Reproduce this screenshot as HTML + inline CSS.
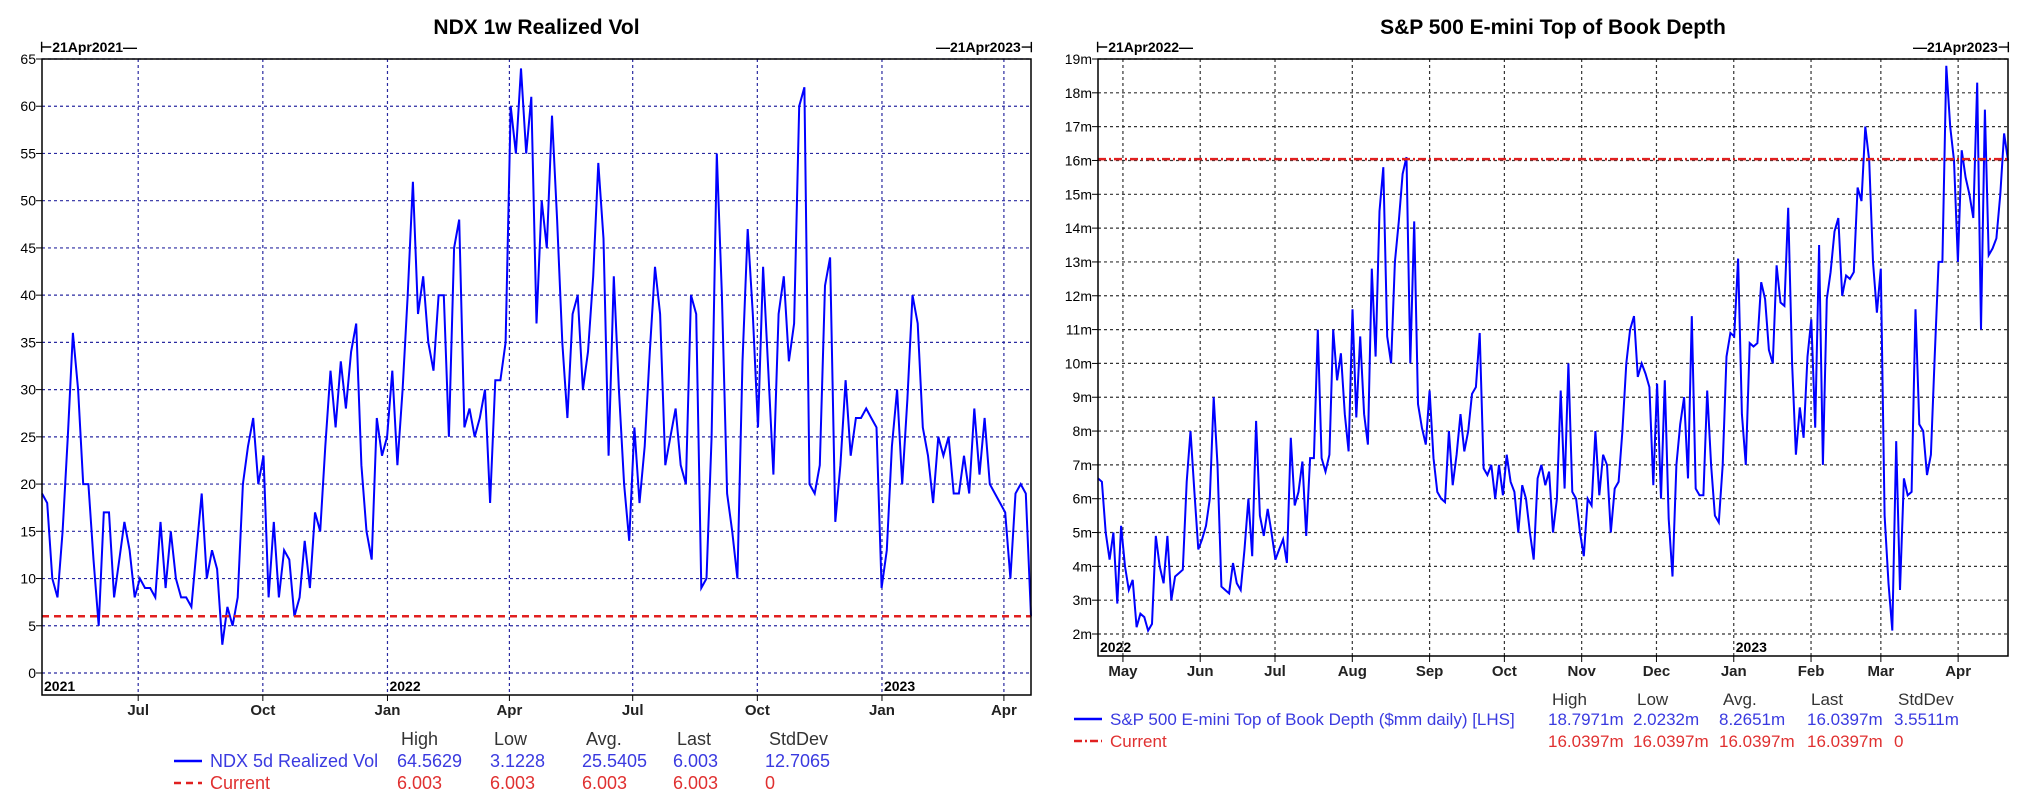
<!DOCTYPE html>
<html><head><meta charset="utf-8"><style>
body{margin:0;background:#fff;width:2028px;height:804px;overflow:hidden;font-family:"Liberation Sans",sans-serif}
svg text{font-family:"Liberation Sans",sans-serif}
</style></head><body>
<svg id="s" width="2028" height="804" xmlns="http://www.w3.org/2000/svg"></svg>
<script>
const ndxValues=[19,18,10,8,15,25,36,30,20,20,12,5,17,17,8,12,16,13,8,10,9,9,8,16,9,15,10,8,8,7,13,19,10,13,11,3,7,5,8,20,24,27,20,23,8,16,8,13,12,6,8,14,9,17,15,24,32,26,33,28,34,37,22,15,12,27,23,25,32,22,30,40,52,38,42,35,32,40,40,25,45,48,26,28,25,27,30,18,31,31,35,60,55,64,55,61,37,50,45,59,48,35,27,38,40,30,34,42,54,46,23,42,30,20,14,26,18,24,34,43,38,22,25,28,22,20,40,38,9,10,25,55,40,19,15,10,33,47,38,26,43,32,21,38,42,33,37,60,62,20,19,22,41,44,16,22,31,23,27,27,28,27,26,9,13,24,30,20,29,40,37,26,23,18,25,23,25,19,19,23,19,28,21,27,20,19,18,17,10,19,20,19,6];
const ndxTicksY=[0,5,10,15,20,25,30,35,40,45,50,55,60,65];
const ndxMonths=["Jul","Oct","Jan","Apr","Jul","Oct","Jan","Apr"];
const ndxMonthDays=[71,163,255,345,436,528,620,710];
const ndxYears=["2021","2022","2023"];
const ndxYearDays=[0,255,620];
const ndxCurrent=6.003;

const esValues=[6.6,6.5,5,4.2,5,2.9,5.2,4,3.3,3.6,2.2,2.6,2.5,2.1,2.3,4.9,4,3.5,4.9,3,3.7,3.8,3.9,6.5,8,6.2,4.5,4.8,5.2,6,9,7,3.4,3.3,3.2,4.1,3.5,3.3,4.5,6,4.3,8.3,5.5,4.9,5.7,5,4.2,4.5,4.8,4.1,7.8,5.8,6.2,7.1,4.9,7.2,7.2,11,7.2,6.8,7.3,11,9.5,10.3,8.5,7.4,11.6,8.4,10.8,8.5,7.6,12.8,10.2,14.5,15.8,10.8,10,13,14.2,15.6,16.1,10,14.2,8.8,8.1,7.6,9.2,7.2,6.2,6,5.9,8,6.4,7.3,8.5,7.4,8,9.1,9.3,10.9,6.9,6.7,7,6,7,6.1,7.3,6.5,6.2,5,6.4,6,5,4.2,6.6,7,6.4,6.8,5,6,9.2,6.3,10,6.2,6,5,4.3,6,5.8,8,6.1,7.3,7,5,6.3,6.5,8,10,11,11.4,9.6,10,9.7,9.3,6.4,9.4,6,9.5,5.4,3.7,7,8.2,9,6.6,11.4,6.3,6.1,6.1,9.2,7,5.5,5.3,7,10.2,10.9,10.8,13.1,8.5,7,10.6,10.5,10.6,12.4,11.9,10.4,10,12.9,11.8,11.7,14.6,10,7.3,8.7,7.8,10.2,11.3,8.1,13.5,7,11.9,12.7,13.9,14.3,12,12.6,12.5,12.7,15.2,14.8,17,16,13,11.5,12.8,5.5,3.5,2.1,7.7,3.3,6.6,6.1,6.2,11.6,8.2,8,6.7,7.3,10.2,13,13,18.8,17,16,13,16.3,15.5,15,14.3,18.3,11,17.5,13.2,13.4,13.7,15,16.8,16];
const esTicksY=[2,3,4,5,6,7,8,9,10,11,12,13,14,15,16,17,18,19];
const esMonths=["May","Jun","Jul","Aug","Sep","Oct","Nov","Dec","Jan","Feb","Mar","Apr"];
const esMonthDays=[10,41,71,102,133,163,194,224,255,286,314,345];
const esYears=["2022","2023"];
const esYearDays=[0,255];
const esCurrent=16.0397;

const S=document.getElementById('s');
const NS='http://www.w3.org/2000/svg';
function mk(tag,attrs,txt){const e=document.createElementNS(NS,tag);for(const k in attrs)e.setAttribute(k,attrs[k]);if(txt!==undefined)e.textContent=txt;S.appendChild(e);return e;}

function chart(c){
  const xs=d=>c.x0+d/c.days*(c.x1-c.x0);
  const ys=v=>c.yb+(v-c.vmin)/(c.vmax-c.vmin)*(c.yt-c.yb);
  let t=mk('text',{x:(c.x0+c.x1)/2,y:c.titleY,'text-anchor':'middle','font-size':21,'font-weight':'bold'},c.title);
  
  
  t=mk('text',{x:c.x0-2,y:52,'font-size':14,'font-weight':'bold'},'⊢'+c.startLbl+'—');
  
  
  t=mk('text',{x:c.x1+2,y:52,'font-size':14,'font-weight':'bold','text-anchor':'end'},'—'+c.endLbl+'⊣');
  
  
  c.ticks.forEach(v=>{
    const y=ys(v);
    let g=mk('line',{x1:c.x0,x2:c.x1,y1:y,y2:y,stroke:c.grid,'stroke-width':1.2,'stroke-dasharray':'3,3'});
    
    
    mk('line',{x1:c.x0-6,x2:c.x0,y1:y,y2:y,stroke:'#000'});
    let l=mk('text',{x:c.x0-6,y:y+5,'text-anchor':'end','font-size':14},v+c.suffix);
    
    
  });
  c.months.forEach((m,i)=>{
    const x=xs(c.monthDays[i]);
    let g=mk('line',{x1:x,x2:x,y1:c.yt,y2:c.yBot,stroke:c.grid,'stroke-width':1.2,'stroke-dasharray':'3,3'});
    
    
    mk('line',{x1:x,x2:x,y1:c.yBot,y2:c.yBot+6,stroke:'#000'});
    let l=mk('text',{x:x,y:c.yBot+20,'text-anchor':'middle','font-size':15,'font-weight':'bold','fill':'#222'},m);
    
    
  });
  c.years.forEach((yr,i)=>{
    let l=mk('text',{x:xs(c.yearDays[i])+2,y:c.yBot-4,'font-size':14,'font-weight':'bold'},yr);
    
    
  });
  const n=c.values.length;
  const pts=c.values.map((v,i)=>xs(i/(n-1)*c.days).toFixed(1)+','+ys(v).toFixed(1)).join(' ');
  let p=mk('polyline',{points:pts,fill:'none',stroke:'#0000ff','stroke-width':2});
  
  
  const cy=ys(c.current);
  p=mk('line',{x1:c.x0,x2:c.x1,y1:cy,y2:cy,stroke:'#e02020','stroke-width':2.5,'stroke-dasharray':c.curDash});
  
  
  let r=mk('rect',{x:c.x0,y:c.yt,width:c.x1-c.x0,height:c.yBot-c.yt,fill:'none',stroke:'#000','stroke-width':1.5});
  
  
  const L=c.leg;
  ['High','Low','Avg.','Last','StdDev'].forEach((h,i)=>{
    let e=mk('text',{x:L.cols[i]+4,y:L.rows[0],'font-size':L.fs,fill:'#333'},h);
    
    
  });
  let e=mk('line',{x1:L.lx,x2:L.lx+28,y1:L.rows[1]-6,y2:L.rows[1]-6,stroke:'#0000ff','stroke-width':2.5});
  
  
  e=mk('text',{x:L.lx+36,y:L.rows[1],'font-size':L.fs,fill:'#3a3ae0'},L.name);
  
  
  L.stats.forEach((s,i)=>{let q=mk('text',{x:L.cols[i],y:L.rows[1],'font-size':L.fs,fill:'#3a3ae0'},s);
    
    });
  e=mk('line',{x1:L.lx,x2:L.lx+28,y1:L.rows[2]-6,y2:L.rows[2]-6,stroke:'#e02020','stroke-width':2.5,'stroke-dasharray':c.curDash});
  
  
  e=mk('text',{x:L.lx+36,y:L.rows[2],'font-size':L.fs,fill:'#e03030'},'Current');
  
  
  L.cur.forEach((s,i)=>{let q=mk('text',{x:L.cols[i],y:L.rows[2],'font-size':L.fs,fill:'#e03030'},s);
    
    });
}
chart({id:'ndx',title:'NDX 1w Realized Vol',titleY:34,startLbl:'21Apr2021',endLbl:'21Apr2023',x0:42,x1:1031,yt:59,yb:673,yBot:695,vmin:0,vmax:65,days:730,
  values:ndxValues,ticks:ndxTicksY,suffix:'',months:ndxMonths,monthDays:ndxMonthDays,years:ndxYears,yearDays:ndxYearDays,current:ndxCurrent,
  grid:'#2a2aa0',curDash:'7,5',
  leg:{fs:18,lx:174,rows:[745,767,789],cols:[397,490,582,673,765],name:'NDX 5d Realized Vol',
    stats:['64.5629','3.1228','25.5405','6.003','12.7065'],cur:['6.003','6.003','6.003','6.003','0']}});
chart({id:'es',title:'S&P 500 E-mini Top of Book Depth',titleY:34,startLbl:'21Apr2022',endLbl:'21Apr2023',x0:1098,x1:2008,yt:59,yb:634,yBot:656,vmin:2,vmax:19,days:365,
  values:esValues,ticks:esTicksY,suffix:'m',months:esMonths,monthDays:esMonthDays,years:esYears,yearDays:esYearDays,current:esCurrent,
  grid:'#333',curDash:'8,3,2,3',
  leg:{fs:17,lx:1074,rows:[705,725,747],cols:[1548,1633,1719,1807,1894],name:'S&P 500 E-mini Top of Book Depth ($mm daily) [LHS]',
    stats:['18.7971m','2.0232m','8.2651m','16.0397m','3.5511m'],cur:['16.0397m','16.0397m','16.0397m','16.0397m','0']}});
</script>
</body></html>
